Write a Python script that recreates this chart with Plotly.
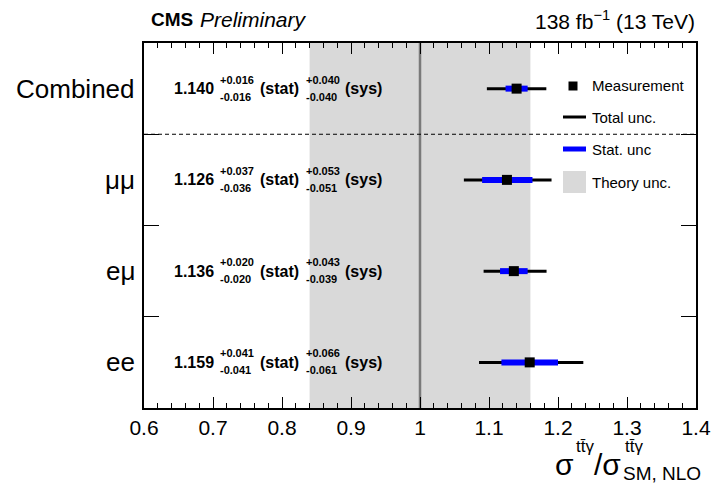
import numpy as np
import plotly.graph_objects as go

# ---- data ----
categories = ["Combined", "μμ", "eμ", "ee"]
row_pos = [3.5, 2.5, 1.5, 0.5]
central = [1.140, 1.126, 1.136, 1.159]
stat_up = [0.016, 0.037, 0.020, 0.041]
stat_dn = [0.016, 0.036, 0.020, 0.041]
sys_up = [0.040, 0.053, 0.043, 0.066]
sys_dn = [0.040, 0.051, 0.039, 0.061]
theory_lo, theory_hi = 0.84, 1.16
sm_value = 1.0
x_ticks = [0.6, 0.7, 0.8, 0.9, 1.0, 1.1, 1.2, 1.3, 1.4]
x_ticktext = ["0.6", "0.7", "0.8", "0.9", "1", "1.1", "1.2", "1.3", "1.4"]

tot_up = list(np.sqrt(np.array(stat_up) ** 2 + np.array(sys_up) ** 2))
tot_dn = list(np.sqrt(np.array(stat_dn) ** 2 + np.array(sys_dn) ** 2))

FONT = "Liberation Sans, Arial, Helvetica, sans-serif"
W, H = 712, 485
L, R, T, B = 144, 696, 43, 408


def px(x):
    return (x - L) / (R - L)


def py(y):
    return (B - y) / (B - T)


fig = go.Figure()

# total uncertainty
fig.add_trace(go.Scatter(
    x=central, y=row_pos, mode="markers",
    marker=dict(size=1, color="rgba(0,0,0,0)"),
    error_x=dict(type="data", symmetric=False, array=tot_up, arrayminus=tot_dn,
                 color="black", thickness=3, width=0),
    showlegend=False, hoverinfo="skip"))
# stat uncertainty + measurement
fig.add_trace(go.Scatter(
    x=central, y=row_pos, mode="markers",
    marker=dict(symbol="square", size=10, color="black"),
    error_x=dict(type="data", symmetric=False, array=stat_up, arrayminus=stat_dn,
                 color="#0000ff", thickness=6, width=0),
    showlegend=False))

shapes = []
# theory band
shapes.append(dict(type="rect", xref="x", yref="y", x0=theory_lo, x1=theory_hi, y0=0, y1=4,
                   fillcolor="#d9d9d9", line=dict(width=0), layer="below"))
# SM line
shapes.append(dict(type="line", xref="x", yref="y", x0=sm_value, x1=sm_value, y0=0, y1=4,
                   line=dict(color="#7a7a7a", width=2.5), layer="below"))
# dashed separator
shapes.append(dict(type="line", xref="paper", yref="y", x0=0, x1=1, y0=3, y1=3,
                   line=dict(color="black", width=1, dash="4px,3px")))

annotations = []
# row labels and value texts
for cat, yv, c, su, sd, yu, yd in zip(categories, row_pos, central, stat_up, stat_dn, sys_up, sys_dn):
    annotations.append(dict(xref="paper", yref="y", x=px(137), y=yv, text=cat, showarrow=False,
                            xanchor="right", yanchor="middle", font=dict(family=FONT, size=26, color="black")))
    base = dict(xref="paper", yref="y", y=yv, showarrow=False, xanchor="left", yanchor="middle")
    annotations.append(dict(base, x=px(172), text=f"<b>{c:.3f}</b>", font=dict(family=FONT, size=16, color="black")))
    annotations.append(dict(base, x=px(218), yshift=9, text=f"<b>+{su:.3f}</b>", font=dict(family=FONT, size=11, color="black")))
    annotations.append(dict(base, x=px(218), yshift=-8, text=f"<b>-{sd:.3f}</b>", font=dict(family=FONT, size=11, color="black")))
    annotations.append(dict(base, x=px(258), text="<b>(stat)</b>", font=dict(family=FONT, size=16, color="black")))
    annotations.append(dict(base, x=px(304), yshift=9, text=f"<b>+{yu:.3f}</b>", font=dict(family=FONT, size=11, color="black")))
    annotations.append(dict(base, x=px(304), yshift=-8, text=f"<b>-{yd:.3f}</b>", font=dict(family=FONT, size=11, color="black")))
    annotations.append(dict(base, x=px(343), text="<b>(sys)</b>", font=dict(family=FONT, size=16, color="black")))

# legend
shapes.append(dict(type="rect", xref="paper", yref="paper", x0=px(568.5), x1=px(577.5), y0=py(90.5), y1=py(81.5),
                   fillcolor="black", line=dict(width=0)))
shapes.append(dict(type="line", xref="paper", yref="paper", x0=px(563), x1=px(586), y0=py(117), y1=py(117),
                   line=dict(color="black", width=3)))
shapes.append(dict(type="line", xref="paper", yref="paper", x0=px(563), x1=px(586), y0=py(149), y1=py(149),
                   line=dict(color="#0000ff", width=5)))
shapes.append(dict(type="rect", xref="paper", yref="paper", x0=px(563), x1=px(586), y0=py(193), y1=py(171),
                   fillcolor="#d9d9d9", line=dict(width=0)))
for label, yy in [("Measurement", 86), ("Total unc.", 117), ("Stat. unc", 149), ("Theory unc.", 182)]:
    annotations.append(dict(xref="paper", yref="paper", x=px(590), y=py(yy), text=label, showarrow=False,
                            xanchor="left", yanchor="middle", font=dict(family=FONT, size=15, color="black")))

# header
annotations.append(dict(xref="paper", yref="paper", x=px(149), y=py(20), text="<b>CMS</b>", showarrow=False,
                        xanchor="left", yanchor="middle", font=dict(family=FONT, size=19, color="black")))
annotations.append(dict(xref="paper", yref="paper", x=px(198), y=py(20), text="<i>Preliminary</i>", showarrow=False,
                        xanchor="left", yanchor="middle", font=dict(family=FONT, size=21, color="black")))
annotations.append(dict(xref="paper", yref="paper", x=px(697), y=py(20), text="138 fb<sup>−1</sup> (13 TeV)",
                        showarrow=False, xanchor="right", yanchor="middle",
                        font=dict(family=FONT, size=21, color="black")))

# x-axis title
title_parts = [
    (553, 464, "σ", 30),
    (574, 446, "tt̄γ", 17),
    (592, 464, "/σ", 30),
    (623, 446, "tt̄γ", 17),
    (621, 473, "SM, NLO", 19),
]
for xx, yy, txt, sz in title_parts:
    annotations.append(dict(xref="paper", yref="paper", x=px(xx), y=py(yy), text=txt, showarrow=False,
                            xanchor="left", yanchor="middle", font=dict(family=FONT, size=sz, color="black")))

fig.update_layout(
    width=W, height=H,
    margin=dict(l=L, r=W - R, t=T, b=H - B, autoexpand=False),
    paper_bgcolor="white", plot_bgcolor="white",
    showlegend=False,
    shapes=shapes, annotations=annotations,
    xaxis=dict(range=[0.6, 1.4], tickmode="array", tickvals=x_ticks, ticktext=x_ticktext,
               ticks="inside", ticklen=11, tickwidth=1, tickcolor="black",
               minor=dict(dtick=0.02, ticks="inside", ticklen=5, tickcolor="black", tickwidth=1, showgrid=False),
               showline=True, linecolor="black", linewidth=1.5, mirror="ticks",
               showgrid=False, zeroline=False, automargin=False,
               tickfont=dict(family=FONT, size=21, color="black")),
    yaxis=dict(range=[0, 4], tickmode="array", tickvals=[1, 2, 3], showticklabels=False,
               ticks="inside", ticklen=15, tickwidth=1, tickcolor="black",
               showline=True, linecolor="black", linewidth=1.5, mirror="ticks",
               showgrid=False, zeroline=False, automargin=False),
)

fig.write_html("out.html", config={"displayModeBar": False},
               post_script="document.body.style.margin='0';document.body.style.overflow='hidden';")
